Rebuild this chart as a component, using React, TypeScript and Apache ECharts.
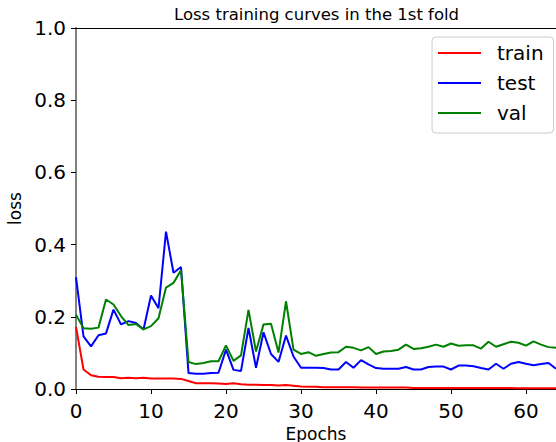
import React, { useEffect, useRef } from "react";
import * as echarts from "echarts";

const epochs: number[] = Array.from({ length: 65 }, (_, i) => i);

const trainLoss: number[] = [
  0.172, 0.054, 0.038, 0.034, 0.033, 0.033, 0.030, 0.031, 0.030, 0.031,
  0.029, 0.029, 0.029, 0.029, 0.028, 0.022, 0.016, 0.016, 0.016, 0.015,
  0.014, 0.016, 0.013, 0.012, 0.012, 0.011, 0.011, 0.010, 0.011, 0.009,
  0.007, 0.006, 0.006, 0.005, 0.005, 0.005, 0.005, 0.005, 0.004, 0.004,
  0.004, 0.004, 0.004, 0.004, 0.004, 0.003, 0.003, 0.003, 0.003, 0.003,
  0.003, 0.003, 0.003, 0.003, 0.003, 0.003, 0.003, 0.003, 0.003, 0.002,
  0.002, 0.002, 0.002, 0.002, 0.002,
];

const testLoss: number[] = [
  0.31, 0.146, 0.118, 0.149, 0.154, 0.22, 0.179, 0.188, 0.183, 0.165,
  0.259, 0.224, 0.436, 0.322, 0.338, 0.044, 0.042, 0.042, 0.044, 0.045,
  0.109, 0.053, 0.05, 0.169, 0.059, 0.157, 0.097, 0.075, 0.148, 0.09,
  0.059, 0.059, 0.059, 0.058, 0.054, 0.054, 0.075, 0.059, 0.08, 0.068,
  0.058, 0.056, 0.056, 0.056, 0.061, 0.054, 0.054, 0.061, 0.062, 0.062,
  0.054, 0.065, 0.065, 0.063, 0.058, 0.054, 0.07, 0.056, 0.07, 0.075,
  0.07, 0.066, 0.069, 0.072, 0.056,
];

const valLoss: number[] = [
  0.206, 0.168, 0.167, 0.17, 0.248, 0.234, 0.202, 0.177, 0.18, 0.165,
  0.174, 0.196, 0.281, 0.294, 0.329, 0.075, 0.069, 0.072, 0.077, 0.077,
  0.121, 0.078, 0.093, 0.219, 0.104, 0.179, 0.181, 0.101, 0.243, 0.109,
  0.097, 0.102, 0.092, 0.097, 0.101, 0.102, 0.117, 0.114, 0.107, 0.116,
  0.097, 0.104, 0.105, 0.109, 0.123, 0.111, 0.113, 0.117, 0.123, 0.117,
  0.126, 0.12, 0.121, 0.121, 0.112, 0.131, 0.117, 0.124, 0.131, 0.128,
  0.12, 0.132, 0.123, 0.116, 0.114,
];

const seriesNames: string[] = ["train", "test", "val"];
const titleText = "Loss training curves in the 1st fold";
const xName = "Epochs";
const yName = "loss";

const FONT = "DejaVu Sans";

export default function App() {
  const ref = useRef<HTMLDivElement>(null);

  useEffect(() => {
    if (!ref.current) return;
    const chart = echarts.init(ref.current, null, { renderer: "svg" });
    const pair = (ys: number[]) => epochs.map((e, i) => [e, ys[i]]);
    const colors = ["#ff0000", "#0000ff", "#008000"];
    const datas = [trainLoss, testLoss, valLoss];

    chart.setOption({
      animation: false,
      backgroundColor: "#ffffff",
      title: {
        text: titleText,
        left: 174,
        top: 6,
        padding: 0,
        textStyle: {
          fontFamily: FONT,
          fontSize: 16.5,
          fontWeight: "normal",
          color: "#000",
        },
      },
      grid: {
        left: 76,
        right: 0,
        top: 28,
        bottom: 53,
        containLabel: false,
        outerBoundsMode: "none",
      },
      legend: {
        show: true,
        orient: "vertical",
        left: 432,
        top: 37,
        padding: [6, 10, 10, 6],
        itemGap: 10,
        itemWidth: 43,
        itemHeight: 2,
        icon: "rect",
        borderColor: "#cccccc",
        borderWidth: 1,
        borderRadius: 4,
        backgroundColor: "rgba(255,255,255,0.8)",
        data: seriesNames,
        textStyle: {
          fontFamily: FONT,
          fontSize: 20,
          lineHeight: 20,
          color: "#000",
          padding: [0, 0, 0, 11],
        },
      },
      xAxis: [
        {
          type: "value",
          min: 0,
          max: 64,
          interval: 10,
          name: xName,
          nameLocation: "middle",
          nameGap: 33,
          nameTextStyle: { fontFamily: FONT, fontSize: 17, lineHeight: 17, color: "#000" },
          axisLine: { show: true, onZero: false, lineStyle: { color: "#000", width: 1.2 } },
          axisTick: { show: true, length: 5, inside: false, lineStyle: { color: "#000", width: 1 } },
          axisLabel: {
            show: true,
            margin: 12,
            fontFamily: FONT,
            fontSize: 20,
            color: "#000",
            showMaxLabel: false,
            formatter: (v: number) => (v % 10 === 0 ? String(v) : ""),
          },
          splitLine: { show: false },
        },
        {
          type: "value",
          position: "top",
          min: 0,
          max: 64,
          axisLine: { show: true, onZero: false, lineStyle: { color: "#000", width: 1.2 } },
          axisTick: { show: false },
          axisLabel: { show: false },
          splitLine: { show: false },
        },
      ],
      yAxis: {
        type: "value",
        min: 0,
        max: 1,
        interval: 0.2,
        name: yName,
        nameLocation: "middle",
        nameGap: 49,
        nameTextStyle: { fontFamily: FONT, fontSize: 17, color: "#000" },
        axisLine: { show: true, onZero: false, lineStyle: { color: "#808080", width: 2 } },
        axisTick: { show: true, length: 5, inside: false, lineStyle: { color: "#000", width: 1 } },
        axisLabel: {
          show: true,
          margin: 10,
          fontFamily: FONT,
          fontSize: 20,
          color: "#000",
          formatter: (v: number) => v.toFixed(1),
        },
        splitLine: { show: false },
      },
      series: seriesNames.map((name, k) => ({
        name,
        type: "line",
        xAxisIndex: 0,
        data: pair(datas[k]),
        showSymbol: false,
        symbol: "none",
        color: colors[k],
        lineStyle: { color: colors[k], width: 2 },
        emphasis: { disabled: true },
      })),
    });

    return () => chart.dispose();
  }, []);

  return (
    <div
      ref={ref}
      style={{ position: "absolute", left: 0, top: 0, width: 556, height: 442 }}
    />
  );
}
